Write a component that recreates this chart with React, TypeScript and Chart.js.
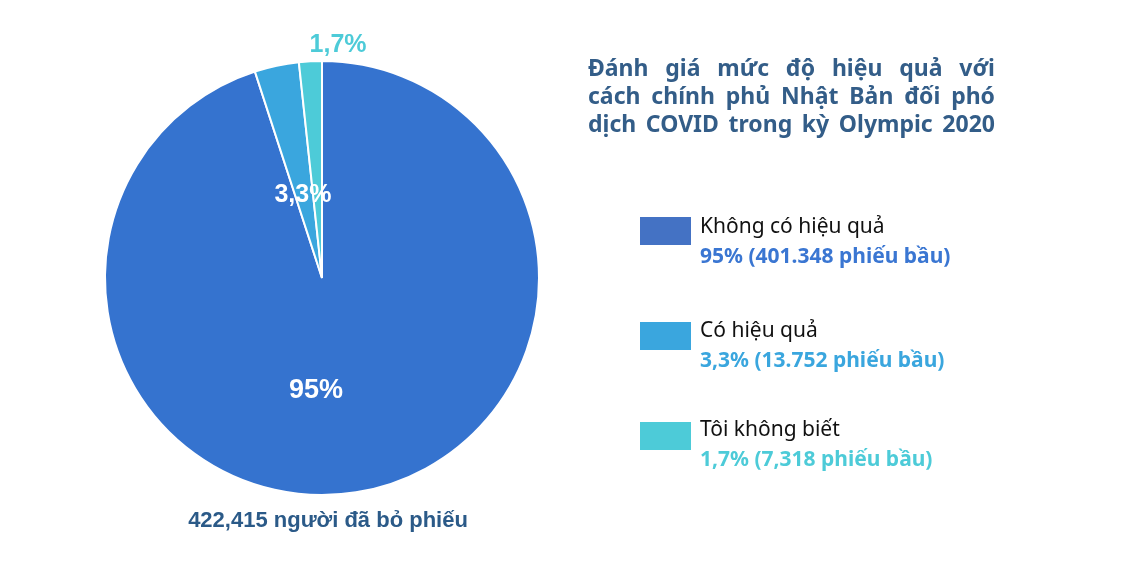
import React, { useEffect, useRef } from "react";
import { Chart, registerables } from "chart.js";

Chart.register(...registerables);

const categories = ["Không có hiệu quả", "Có hiệu quả", "Tôi không biết"];
const percentValues = [95, 3.3, 1.7];
const percentLabels = ["95%", "3,3%", "1,7%"];
const voteLabels = ["95% (401.348 phiếu bầu)", "3,3% (13.752 phiếu bầu)", "1,7% (7,318 phiếu bầu)"];
const titleLines = ["Đánh giá mức độ hiệu quả với", "cách chính phủ Nhật Bản đối phó", "dịch COVID trong kỳ Olympic 2020"];
const totalLabel = "422,415 người đã bỏ phiếu";

const sliceColors = ["#3573CF", "#3AA6DE", "#4DCBD8"];
const legendBoxColors = ["#4472C4", "#3AA6DE", "#4DCBD8"];
const legendTextColors = ["#3A76D2", "#3AA6DE", "#4DCBD8"];
const titleColor = "#335D88";

// label placement: fraction of radius, rotation (deg) from slice mid-angle, colour
const labelPlacement = [
  { dist: 0.52, rot: 12, color: "#FFFFFF", size: 27 },
  { dist: 0.39, rot: -1, color: "#FFFFFF", size: 25 },
  { dist: 1.076, rot: 7, color: "#4DCBD8", size: 25 },
];

const sliceLabelPlugin = {
  id: "sliceLabels",
  afterDatasetsDraw(chart: any) {
    const meta = chart.getDatasetMeta(0);
    const ctx = chart.ctx;
    ctx.save();
    meta.data.forEach((arc: any, i: number) => {
      const p = labelPlacement[i];
      const mid = (arc.startAngle + arc.endAngle) / 2 + (p.rot * Math.PI) / 180;
      const d = arc.outerRadius * p.dist;
      const x = arc.x + Math.cos(mid) * d;
      const y = arc.y + Math.sin(mid) * d;
      ctx.font = `bold ${p.size}px "Liberation Sans", Arial, sans-serif`;
      ctx.fillStyle = p.color;
      ctx.textAlign = "center";
      ctx.textBaseline = "middle";
      ctx.fillText(percentLabels[i], x, y);
    });
    ctx.restore();
  },
};

export default function App() {
  const canvasRef = useRef<HTMLCanvasElement | null>(null);

  useEffect(() => {
    document.body.style.margin = "0";
    const chart = new Chart(canvasRef.current as HTMLCanvasElement, {
      type: "pie",
      data: {
        labels: categories,
        datasets: [
          {
            data: percentValues,
            backgroundColor: sliceColors,
            borderColor: "#FFFFFF",
            borderWidth: 2,
            radius: 217,
          } as any,
        ],
      },
      options: {
        responsive: false,
        animation: false,
        devicePixelRatio: 1,
        layout: { padding: { left: 105, right: 601, top: 61, bottom: 75 } },
        plugins: {
          legend: { display: false },
          tooltip: { enabled: false },
          title: { display: false },
        },
      },
      plugins: [sliceLabelPlugin],
    });
    return () => chart.destroy();
  }, []);

  return (
    <div style={{ position: "relative", width: 1140, height: 570, background: "#FFFFFF", overflow: "hidden" }}>
      <canvas ref={canvasRef} width={1140} height={570} style={{ position: "absolute", left: 0, top: 0, width: 1140, height: 570 }} />
      <div
        style={{
          position: "absolute",
          left: 588,
          top: 53,
          width: 407,
          fontFamily: '"Noto Sans", sans-serif',
          fontWeight: 700,
          fontSize: 23,
          lineHeight: "28px",
          color: titleColor,
        }}
      >
        {titleLines.map((t, i) => (
          <div key={i} style={{ textAlign: "justify", textAlignLast: "justify", whiteSpace: "nowrap" as any }}>
            {t}
          </div>
        ))}
      </div>
      {categories.map((c, i) => {
        const tops = [217, 322, 422];
        const textTops = [211, 315, 414];
        return (
          <React.Fragment key={c}>
            <div
              style={{
                position: "absolute",
                left: 640,
                top: tops[i],
                width: 51,
                height: 28,
                background: legendBoxColors[i],
              }}
            />
            <div
              style={{
                position: "absolute",
                left: 700,
                top: textTops[i],
                fontFamily: '"Noto Sans", sans-serif',
                fontSize: 21,
                lineHeight: "29.5px",
                whiteSpace: "nowrap",
              }}
            >
              <div style={{ color: "#111111" }}>{c}</div>
              <div style={{ color: legendTextColors[i], fontWeight: 700 }}>{voteLabels[i]}</div>
            </div>
          </React.Fragment>
        );
      })}
      <div
        style={{
          position: "absolute",
          left: 128,
          top: 507,
          width: 400,
          textAlign: "center",
          fontFamily: '"Liberation Sans", Arial, sans-serif',
          fontWeight: 700,
          fontSize: 22,
          lineHeight: "26px",
          color: "#2B5A88",
        }}
      >
        {totalLabel}
      </div>
    </div>
  );
}
